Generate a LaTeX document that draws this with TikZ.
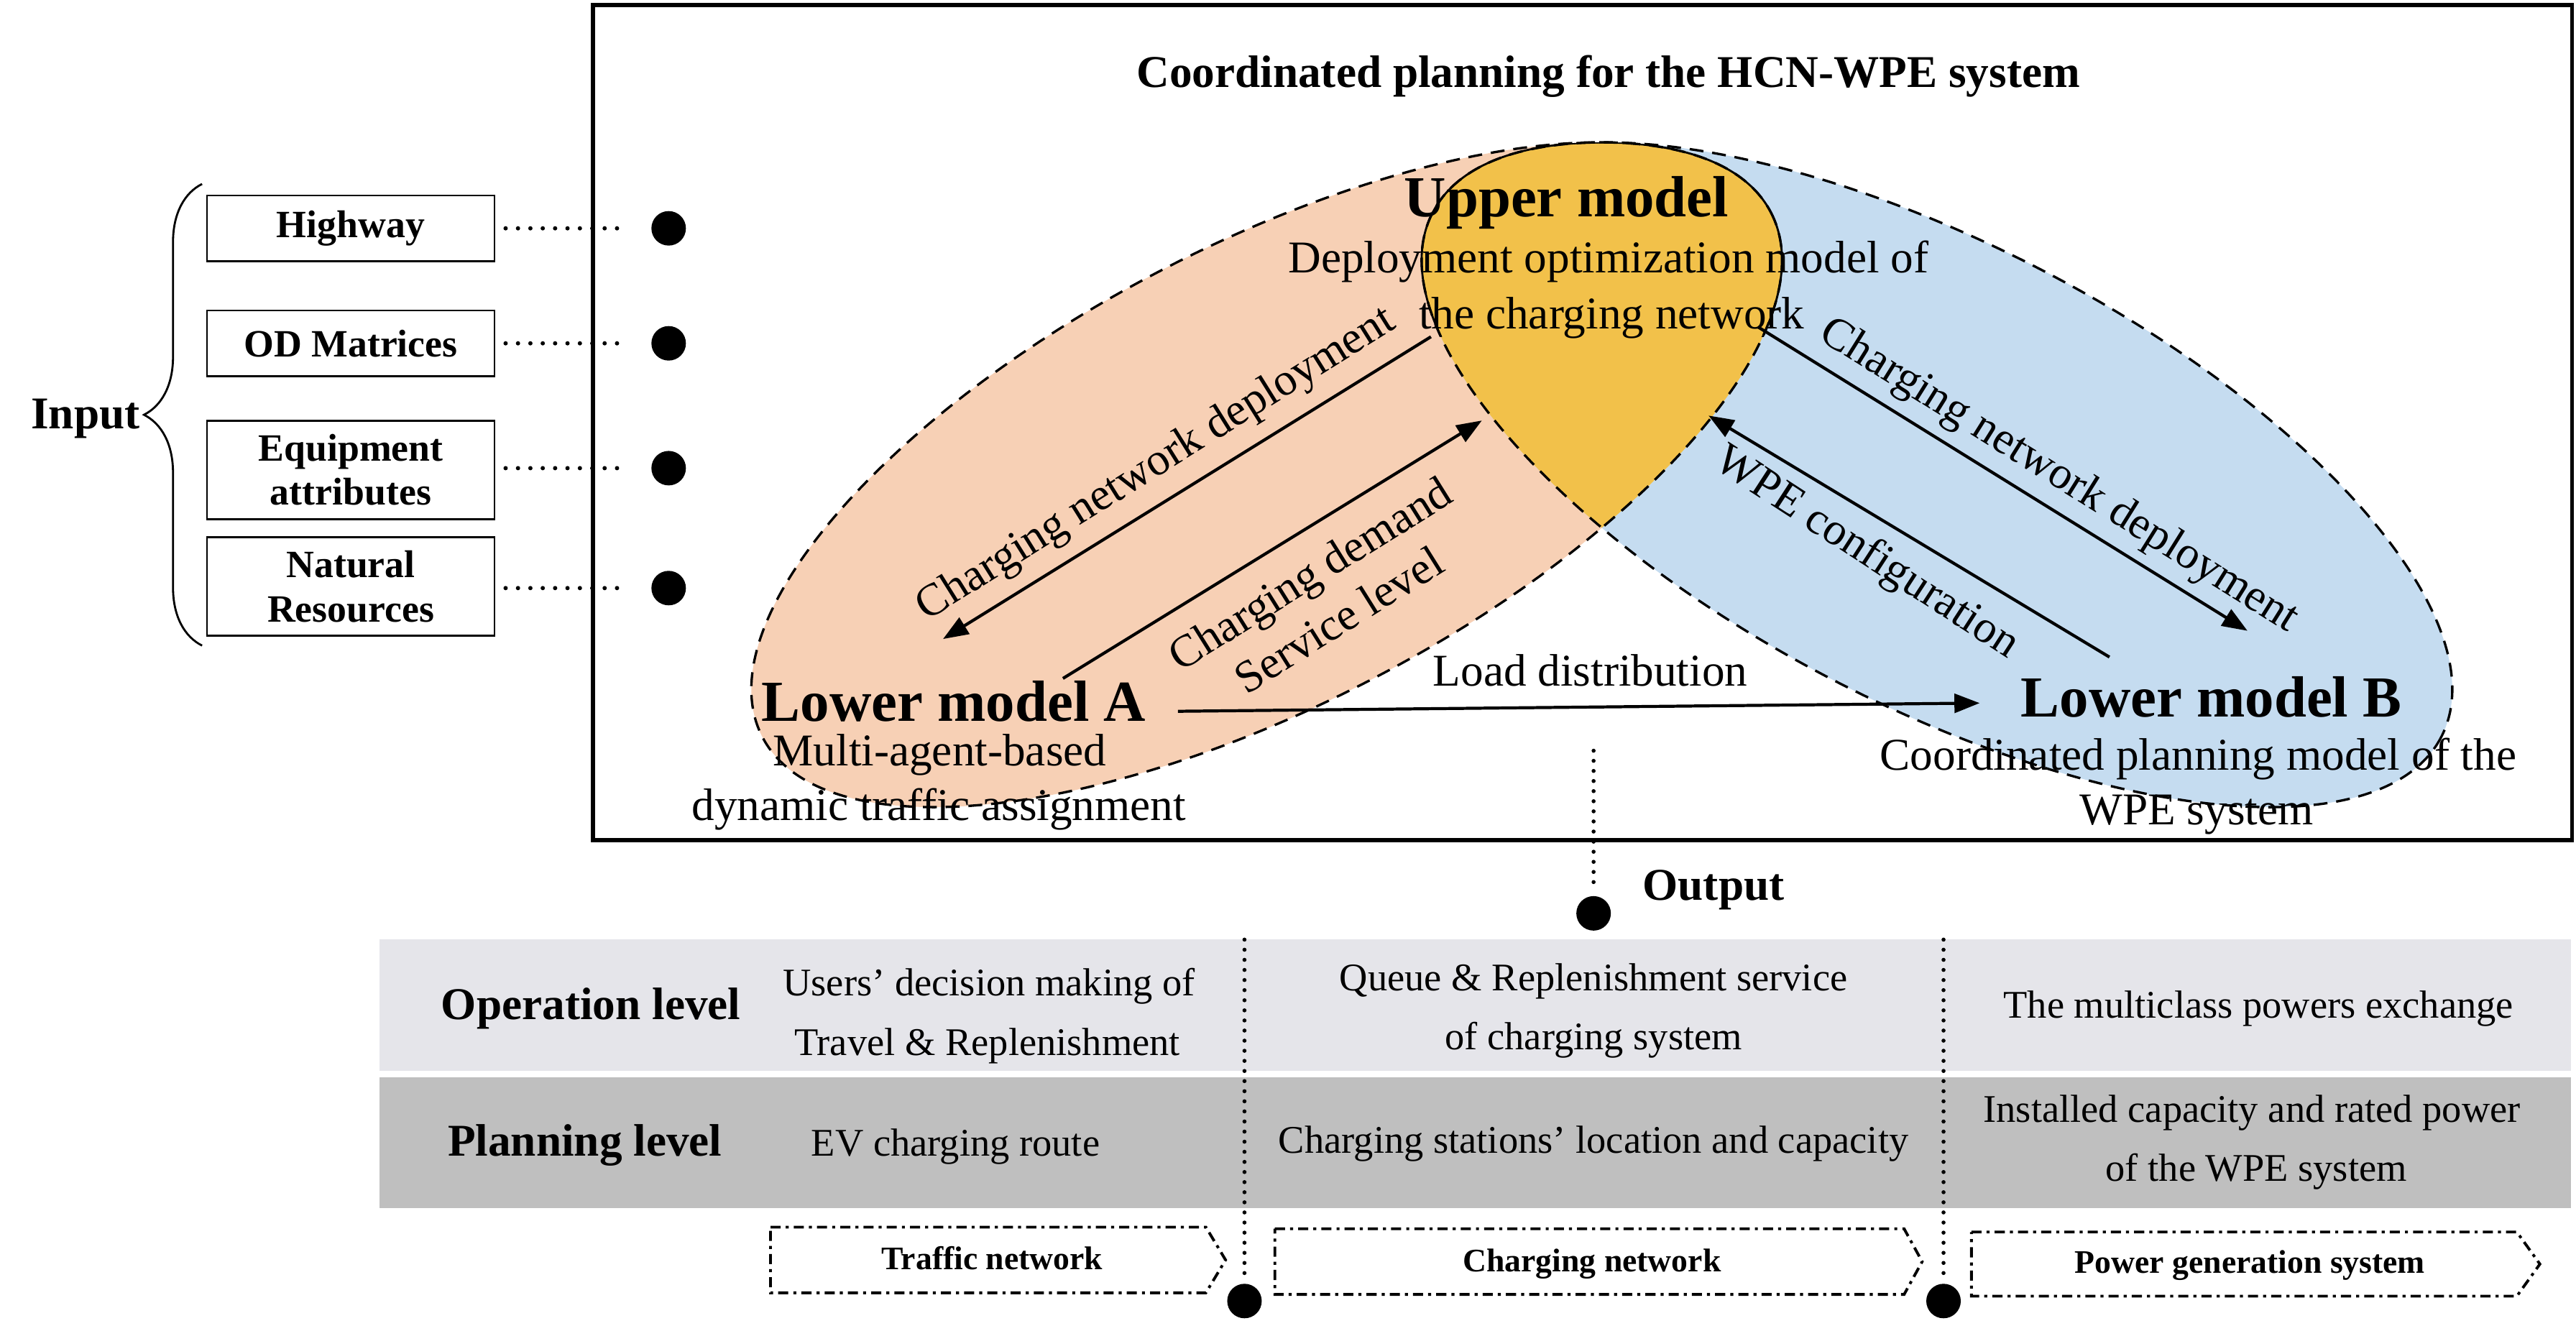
\documentclass[tikz,border=0pt]{standalone}
\usepackage{fontspec}
\setmainfont{Liberation Serif}
\usetikzlibrary{arrows.meta,decorations.pathreplacing}
\definecolor{peach}{HTML}{F7D0B5}
\definecolor{lblue}{HTML}{C5DCF0}
\definecolor{gold}{HTML}{F2C14A}
\definecolor{rowa}{HTML}{E5E5EA}
\definecolor{rowb}{HTML}{BFBFBF}
\newcommand\fTitle{\fontsize{18}{21}\selectfont\bfseries}
\newcommand\fBig{\fontsize{23}{26}\selectfont\bfseries}
\newcommand\fReg{\fontsize{18}{21.5}\selectfont}
\newcommand\fIn{\fontsize{15.3}{17.5}\selectfont\bfseries}
\newcommand\fTab{\fontsize{15.5}{23.4}\selectfont}
\newcommand\fSys{\fontsize{13}{15}\selectfont\bfseries}
\begin{document}
\begin{tikzpicture}[x=0.022857cm, y=-0.022857cm,
  inbox/.style={draw, line width=0.8pt, minimum width=4cm, inner sep=0pt, align=center, font=\fIn},
  bdot/.style={circle, fill=black, minimum size=0.48cm, inner sep=0pt},
  dotline/.style={line width=1.7pt, line cap=round, dash pattern=on 0pt off 4.9pt},
  vdotline/.style={line width=1.6pt, line cap=round, dash pattern=on 0pt off 4pt},
  ellout/.style={line width=0.95pt, dash pattern=on 5.5pt off 3.5pt},
  arr/.style={line width=1.2pt, -{Triangle[length=10pt,width=7.5pt]}},
  sysbox/.style={line width=1.1pt, dash pattern=on 4pt off 2pt on 1.2pt off 2pt},
  txt/.style={inner sep=0pt, anchor=base},
  rlbl/.style={inner sep=0pt, font=\fReg, align=center},
]
\useasboundingbox (0,0) rectangle (1568,810);

% ---------- ellipses ----------
\fill[peach, rotate around={27.5:(771,289)}] (771,289) ellipse [x radius=346, y radius=140];
\fill[lblue, rotate around={-27.5:(1179,289)}] (1179,289) ellipse [x radius=346, y radius=140];
\begin{scope}
  \clip[rotate around={27.5:(771,289)}] (771,289) ellipse [x radius=346, y radius=140];
  \fill[gold, rotate around={-27.5:(1179,289)}] (1179,289) ellipse [x radius=346, y radius=140];
\end{scope}
\begin{scope}
  \clip (0,0) rectangle (1568,205);
  \begin{scope}
    \clip[rotate around={27.5:(771,289)}] (771,289) ellipse [x radius=346, y radius=140];
    \draw[line width=0.8pt, rotate around={-27.5:(1179,289)}] (1179,289) ellipse [x radius=346, y radius=140];
  \end{scope}
  \begin{scope}
    \clip[rotate around={-27.5:(1179,289)}] (1179,289) ellipse [x radius=346, y radius=140];
    \draw[line width=0.8pt, rotate around={27.5:(771,289)}] (771,289) ellipse [x radius=346, y radius=140];
  \end{scope}
\end{scope}
\draw[ellout, rotate around={27.5:(771,289)}] (771,289) ellipse [x radius=346, y radius=140];
\draw[ellout, rotate around={-27.5:(1179,289)}] (1179,289) ellipse [x radius=346, y radius=140];

% ---------- frame and title ----------
\draw[line width=1.6pt] (361,3) rectangle (1565.5,511.5);
\node[txt, font=\fTitle] (title) at (979,53) {Coordinated planning for the HCN-WPE system};

% ---------- model texts ----------
\node[txt, font=\fBig] (upper) at (953.5,131.7) {Upper model};
\node[txt, font=\fReg] (upd1) at (979,166) {Deployment optimization model of};
\node[txt, font=\fReg] (upd2) at (981,200) {the charging network};

\node[txt, font=\fBig] (lowA) at (580.6,439) {Lower model A};
\node[txt, font=\fReg] (lowA1) at (572,466) {Multi-agent-based};
\node[txt, font=\fReg] (lowA2) at (571.5,499.5) {dynamic traffic assignment};

\node[txt, font=\fBig] (lowB) at (1346,436.5) {Lower model B};
\node[txt, font=\fReg] (lowB1) at (1338,468.8) {Coordinated planning model of the};
\node[txt, font=\fReg] (lowB2) at (1337,502) {WPE system};

% ---------- arrows ----------
\coordinate (a1s) at (871,205);  \coordinate (a1e) at (574,389);
\coordinate (a2s) at (647,413);  \coordinate (a2e) at (902,256);
\coordinate (a3s) at (1070,199); \coordinate (a3e) at (1368,384);
\coordinate (a4s) at (1284,400); \coordinate (a4e) at (1040,253);
\coordinate (a5s) at (717,433);  \coordinate (a5e) at (1205,428);
\draw[arr] (a1s) -- (a1e);
\draw[arr] (a2s) -- (a2e);
\draw[arr] (a3s) -- (a3e);
\draw[arr] (a4s) -- (a4e);
\draw[arr] (a5s) -- (a5e);

\node[rlbl, rotate=32] (lblA1) at (704,283) {Charging network deployment};
\node[rlbl, rotate=32] (lblA2) at (806,363) {Charging demand\\Service level};
\node[rlbl, rotate=-32] (lblB1) at (1253,290) {Charging network deployment};
\node[rlbl, rotate=-33] (lblB2) at (1136,337) {WPE configuration};
\node[txt, font=\fReg] (load) at (968,417.4) {Load distribution};

% ---------- inputs ----------
\node[inbox, minimum height=0.914cm] (hw) at (213.5,139) {Highway};
\node[inbox, minimum height=0.914cm] (od) at (213.5,209) {OD Matrices};
\node[inbox, minimum height=1.371cm] (eq) at (213.5,286) {Equipment\\attributes};
\node[inbox, minimum height=1.371cm] (nr) at (213.5,357) {Natural\\Resources};
\node[bdot] (d1) at (407,139) {};
\node[bdot] (d2) at (407,209) {};
\node[bdot] (d3) at (407,285) {};
\node[bdot] (d4) at (407,358) {};
\draw[dotline] ([xshift=4pt]hw.east) -- ([xshift=-9pt]d1.west);
\draw[dotline] ([xshift=4pt]od.east) -- ([xshift=-9pt]d2.west);
\draw[dotline] ([xshift=4pt]eq.east |- d3) -- ([xshift=-9pt]d3.west);
\draw[dotline] ([xshift=4pt]nr.east |- d4) -- ([xshift=-9pt]d4.west);
\draw[line width=0.8pt, decorate, decoration={brace, amplitude=23pt}] (123,393) -- (123,112);
\node[txt, font=\fTitle] (input) at (52,261) {Input};

% ---------- output ----------
\node[bdot] (dout) at (970,556) {};
\coordinate (outtop) at (970,457);
\draw[vdotline] (outtop) -- ([yshift=3pt]dout.north);
\node[txt, font=\fTitle] (outlbl) at (1043,548) {Output};

% ---------- table ----------
\fill[rowa] (231,572) rectangle (1565,652);
\fill[rowb] (231,656) rectangle (1565,735.5);
\node[txt, font=\fTitle] (oplvl) at (359.7,620.5) {Operation level};
\node[txt, font=\fTitle] (pllvl) at (356,703.5) {Planning level};
\node[txt, font=\fTab] (c11a) at (602,606) {Users’ decision making of};
\node[txt, font=\fTab] (c11b) at (601,642.3) {Travel \& Replenishment};
\node[txt, font=\fTab] (c21) at (581.7,703.5) {EV charging route};
\node[txt, font=\fTab] (c12a) at (970,603) {Queue \& Replenishment service};
\node[txt, font=\fTab] (c12b) at (970,639) {of charging system};
\node[txt, font=\fTab] (c22) at (970,701.8) {Charging stations’ location and capacity};
\node[txt, font=\fTab] (c13) at (1374.7,619.7) {The multiclass powers exchange};
\node[txt, font=\fTab] (c23a) at (1370.7,683) {Installed capacity and rated power};
\node[txt, font=\fTab] (c23b) at (1373.4,719) {of the WPE system};

\node[bdot] (dA) at (757.5,792) {};
\node[bdot] (dB) at (1183,792) {};
\coordinate (sepA) at (757.5,572);
\coordinate (sepB) at (1183,572);
\draw[vdotline] (sepA) -- ([yshift=3pt]dA.north);
\draw[vdotline] (sepB) -- ([yshift=3pt]dB.north);

% ---------- systems ----------
\draw[sysbox] (469,747) -- (734,747) -- (746,767) -- (734,787) -- (469,787) -- cycle;
\draw[sysbox] (776,748) -- (1159,748) -- (1170,768) -- (1159,788) -- (776,788) -- cycle;
\draw[sysbox] (1200,750) -- (1532,750) -- (1546,769.5) -- (1532,789) -- (1200,789) -- cycle;
\node[txt, font=\fSys] (traffic) at (604,773) {Traffic network};
\node[txt, font=\fSys] (charging) at (969,774) {Charging network};
\node[txt, font=\fSys] (power) at (1369.5,775) {Power generation system};
\end{tikzpicture}
\end{document}
